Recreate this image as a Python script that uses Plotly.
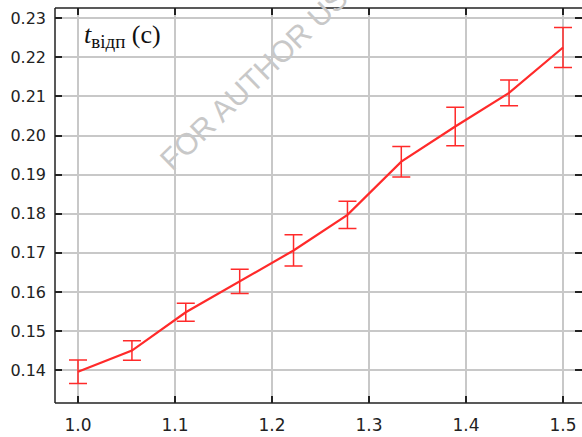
import plotly.graph_objects as go

x_vals = [1.0, 1.0556, 1.1111, 1.1667, 1.2222, 1.2778, 1.3333, 1.3889, 1.4444, 1.5]
t_vals = [0.1396, 0.1450, 0.1548, 0.1627, 0.1706, 0.1797, 0.1933, 0.2023, 0.2109, 0.2225]
t_err = [0.0030, 0.0025, 0.0023, 0.0031, 0.0040, 0.0035, 0.0039, 0.0049, 0.0033, 0.0051]
x_ticks = [1.0, 1.1, 1.2, 1.3, 1.4, 1.5]
x_tick_text = ["1.0", "1.1", "1.2", "1.3", "1.4", "1.5"]
y_ticks = [0.14, 0.15, 0.16, 0.17, 0.18, 0.19, 0.20, 0.21, 0.22, 0.23]
y_tick_text = ["0.14", "0.15", "0.16", "0.17", "0.18", "0.19", "0.20", "0.21", "0.22", "0.23"]

RED = "#ff2a2a"

fig = go.Figure()
fig.add_trace(go.Scatter(
    x=x_vals, y=t_vals, mode="lines",
    line=dict(color=RED, width=2.2),
    error_y=dict(type="data", array=t_err, visible=True, color=RED, thickness=1.5, width=9),
    showlegend=False,
))

axis_common = dict(
    showgrid=True, gridcolor="#c8c8c8", gridwidth=1.5,
    zeroline=False, showline=False,
    ticks="inside", ticklen=7, tickwidth=1.5, tickcolor="#222",
    mirror="ticks",
    tickfont=dict(family="DejaVu Sans", size=16, color="#222"),
)

fig.update_xaxes(**axis_common, range=[0.97629, 1.51959], tickvals=x_ticks, ticktext=x_tick_text,
                 ticklabelstandoff=10)
fig.update_yaxes(**axis_common, range=[0.1316, 0.2326], tickvals=y_ticks, ticktext=y_tick_text,
                 ticklabelstandoff=8)
fig.update_xaxes(tickfont=dict(family="DejaVu Sans", size=17, color="#222"))

# frame lines: left, top, bottom
for x0, y0, x1, y1 in [(0, 0, 0, 1), (0, 1, 1, 1), (0, 0, 1, 0)]:
    fig.add_shape(type="line", xref="paper", yref="paper", x0=x0, y0=y0, x1=x1, y1=y1,
                  line=dict(color="#222", width=1.5))

fig.add_annotation(
    xref="paper", yref="paper", x=0.052, y=0.975, xanchor="left", yanchor="top",
    text="<i>t</i><sub><span style='font-size:19px'>відп</span></sub> (с)", showarrow=False,
    font=dict(family="Liberation Serif", size=26, color="#111"),
)

fig.add_annotation(
    xref="paper", yref="paper", xanchor="center", yanchor="middle",
    x=0.45, y=0.916, text="FOR AUTHOR USE ONLY", showarrow=False, textangle=-44,
    font=dict(family="Liberation Sans", size=30, color="#c8c8c8"),
)

fig.update_layout(
    width=582, height=437,
    margin=dict(l=55, r=0, t=8, b=34),
    plot_bgcolor="white", paper_bgcolor="white",
)

fig.write_html("out.html")
